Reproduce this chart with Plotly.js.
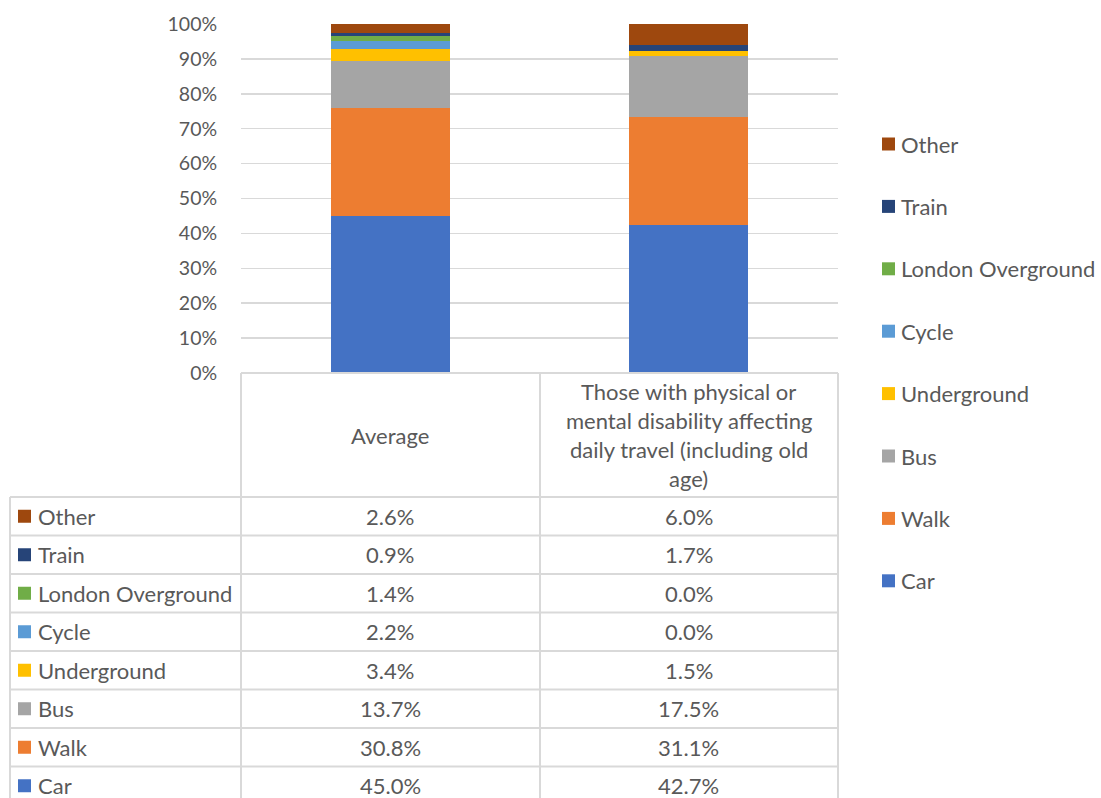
<!DOCTYPE html>
<html>
<head>
<meta charset="utf-8">
<script src="https://cdn.plot.ly/plotly-3.0.1.min.js"></script>
<style>
  html, body { margin: 0; padding: 0; background: #fff; }
  #chart { width: 1101px; height: 798px; }
</style>
</head>
<body>
<div id="chart"></div>
<script>
// Travel mode shares, stacked bottom-to-top in this order
const modes = ['Car', 'Walk', 'Bus', 'Underground', 'Cycle', 'London Overground', 'Train', 'Other'];
const modeColors = ['#4472C4', '#ED7D31', '#A5A5A5', '#FFC000', '#5B9BD5', '#70AD47', '#264478', '#9E480E'];
const groups = ['Average', 'Those with physical or<br>mental disability affecting<br>daily travel (including old<br>age)'];
const averageShares = [45.0, 30.8, 13.7, 3.4, 2.2, 1.4, 0.9, 2.6];
const disabilityShares = [42.7, 31.1, 17.5, 1.5, 0.0, 0.0, 1.7, 6.0];
const yTicks = [0, 10, 20, 30, 40, 50, 60, 70, 80, 90, 100];

const W = 1101, H = 798;
const L = 241, R = 838, T = 24, B = 373;           // plot area in pixels
const px = x => (x - L) / (R - L);                  // pixel -> paper x
const py = y => (B - y) / (B - T);                  // pixel -> paper y

const FONT = 'Lato, "Open Sans", sans-serif';
const TXT = '#595959';
const LINE = '#d9d9d9';
const TEXT_SIZE = 22;

const traces = modes.map((m, i) => ({
  type: 'bar',
  name: m,
  x: groups,
  y: [averageShares[i], disabilityShares[i]],
  marker: { color: modeColors[i], line: { width: 0 } },
  hoverinfo: 'name+y',
  showlegend: false
}));

const shapes = [];
const annotations = [];

// data table geometry
const headerBottom = 497;
const rowH = 38.5;
const tableLeft = 10;
const colEdges = [241, 540, 838];

const line = (x0, y0, x1, y1) => shapes.push({
  type: 'line', xref: 'paper', yref: 'paper',
  x0: px(x0), y0: py(y0), x1: px(x1), y1: py(y1),
  line: { color: LINE, width: 2 }, layer: 'above'
});

// header box
line(L, B, R, B);
colEdges.forEach(x => line(x, B, x, H + 5));
line(tableLeft, headerBottom, tableLeft, H + 5);
// row separators (top row first = last series)
for (let r = 0; r < modes.length; r++) {
  line(tableLeft, headerBottom + r * rowH, R, headerBottom + r * rowH);
}

// header labels, one line each for even spacing
const headerMid = (B + headerBottom) / 2;
groups.forEach(g => {
  const parts = g.split('<br>');
  const gap = 29.3;
  parts.forEach((p, k) => {
    const yc = headerMid + (k - (parts.length - 1) / 2) * gap;
    annotations.push({
      xref: 'x', yref: 'paper', x: g, y: py(yc),
      text: p, showarrow: false, xanchor: 'center', yanchor: 'middle',
      font: { family: FONT, size: TEXT_SIZE, color: TXT }
    });
  });
});

// table rows: Other at top down to Car
for (let r = 0; r < modes.length; r++) {
  const i = modes.length - 1 - r;
  const yc = headerBottom + r * rowH + rowH / 2;
  shapes.push({
    type: 'rect', xref: 'paper', yref: 'paper',
    x0: px(18), x1: px(31), y0: py(yc - 6.5), y1: py(yc + 6.5),
    fillcolor: modeColors[i], line: { width: 0 }
  });
  annotations.push({
    xref: 'paper', yref: 'paper', x: px(36), y: py(yc),
    text: modes[i], showarrow: false, xanchor: 'left', yanchor: 'middle',
    font: { family: FONT, size: TEXT_SIZE, color: TXT }
  });
  [averageShares, disabilityShares].forEach((vals, c) => {
    annotations.push({
      xref: 'x', yref: 'paper', x: groups[c], y: py(yc),
      text: vals[i].toFixed(1) + '%', showarrow: false, xanchor: 'center', yanchor: 'middle',
      font: { family: FONT, size: TEXT_SIZE, color: TXT }
    });
  });
}

// legend on the right, Other at top
const legTop = 144, legStep = 62.4;
for (let r = 0; r < modes.length; r++) {
  const i = modes.length - 1 - r;
  const yc = legTop + r * legStep;
  shapes.push({
    type: 'rect', xref: 'paper', yref: 'paper',
    x0: px(882), x1: px(895), y0: py(yc - 6.5), y1: py(yc + 6.5),
    fillcolor: modeColors[i], line: { width: 0 }
  });
  annotations.push({
    xref: 'paper', yref: 'paper', x: px(899), y: py(yc),
    text: modes[i], showarrow: false, xanchor: 'left', yanchor: 'middle',
    font: { family: FONT, size: TEXT_SIZE, color: TXT }
  });
}

const layout = {
  width: W, height: H,
  margin: { l: L, r: W - R, t: T, b: H - B, pad: 0 },
  paper_bgcolor: '#ffffff',
  plot_bgcolor: '#ffffff',
  barmode: 'stack',
  barnorm: 'percent',
  bargap: 0.6,
  showlegend: false,
  xaxis: {
    type: 'category',
    showticklabels: false,
    showgrid: false, zeroline: false, showline: false, ticks: ''
  },
  yaxis: {
    range: [0, 100],
    tickvals: yTicks,
    ticktext: yTicks.map(v => v + '%'),
    showgrid: true, gridcolor: LINE, gridwidth: 1.5,
    zeroline: false, showline: false,
    ticks: 'outside', ticklen: 19, tickcolor: 'rgba(0,0,0,0)',
    tickfont: { family: FONT, size: 19.5, color: TXT },
    fixedrange: true
  },
  shapes: shapes,
  annotations: annotations
};

Plotly.newPlot('chart', traces, layout, { displayModeBar: false, staticPlot: true });
</script>
</body>
</html>
